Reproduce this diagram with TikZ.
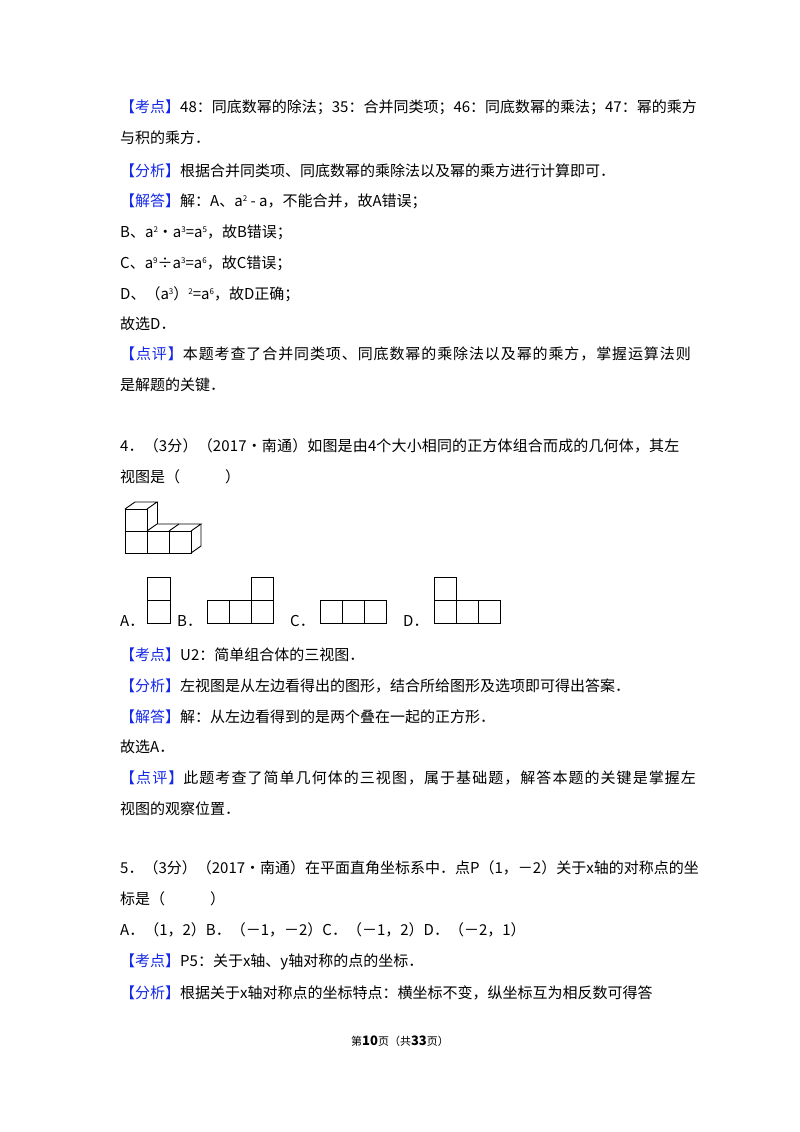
\documentclass[tikz,border=0pt]{standalone}
\usepackage{fontspec}
\setmainfont{Noto Sans CJK SC}
\definecolor{kb}{RGB}{20,40,230}
\newcommand{\kd}[1]{\textcolor{kb}{【#1】}}
\newcommand{\sps}[1]{\raisebox{0.6ex}{\fontsize{8}{8}\selectfont #1}}
\begin{document}
\begin{tikzpicture}[x=1pt,y=-1pt,
  tl/.style={anchor=base west,inner sep=0pt,font=\fontsize{15}{15}\selectfont},
  sq/.style={draw,line width=0.9pt}]
\useasboundingbox (0,0) rectangle (800,1132);
\node[tl] (l1) at (120,112) {\kd{考点}48：同底数幂的除法；35：合并同类项；46：同底数幂的乘法；47：幂的乘方};
\node[tl] (l2) at (120,143) {与积的乘方．};
\node[tl] (l3) at (120,176) {\kd{分析}根据合并同类项、同底数幂的乘除法以及幂的乘方进行计算即可．};
\node[tl] (l4) at (120,206) {\kd{解答}解：A、a\sps{2} - a，不能合并，故A错误；};
\node[tl] (l5) at (120,237) {B、a\sps{2}•a\sps{3}=a\sps{5}，故B错误；};
\node[tl] (l6) at (120,268) {C、a\sps{9}÷a\sps{3}=a\sps{6}，故C错误；};
\node[tl] (l7) at (120,299) {D、（a\sps{3}）\sps{2}=a\sps{6}，故D正确；};
\node[tl] (l8) at (120,329) {故选D．};
\node[tl] (l9) at (120,359) {\addfontfeature{LetterSpace=6}\kd{点评}本题考查了合并同类项、同底数幂的乘除法以及幂的乘方，掌握运算法则};
\node[tl] (l10) at (120,390) {是解题的关键．};
\node[tl] (q4a) at (120,451) {\addfontfeature{LetterSpace=1}4．（3分）（2017•南通）如图是由4个大小相同的正方体组合而成的几何体，其左};
\node[tl] (q4b) at (120,482) {视图是（\hspace{3em}）};
% 3D figure
\def\dx{10}\def\dy{-7}
\foreach \x in {125,147,169} \draw[sq] (\x,531) rectangle ++(22,22);
\draw[sq] (125,509) rectangle (147,531);
\draw[sq] (125,509) -- ++(\dx,\dy) -- ++(22,0) -- (147,509);
\draw[sq] (157,502) -- (157,524);
\draw[sq] (147,531) -- ++(\dx,\dy) -- ++(44,0) -- (191,531);
\draw[sq] (169,531) -- ++(\dx,\dy);
\draw[sq] (201,524) -- (201,546) -- (191,553);
% options
\node[tl] (oa) at (120,626) {A．};
\node[tl] (ob) at (177,626) {B．};
\node[tl] (oc) at (290,626) {C．};
\node[tl] (od) at (403,626) {D．};
\draw[sq] (147,577) rectangle (170,600) (147,600) rectangle (170,623);
\foreach \x in {207,229,251} \draw[sq] (\x,600) rectangle ++(22,23);
\draw[sq] (251,577) rectangle (273,600);
\foreach \x in {320,342,364} \draw[sq] (\x,600) rectangle ++(22,23);
\foreach \x in {434,456,478} \draw[sq] (\x,600) rectangle ++(22,23);
\draw[sq] (434,577) rectangle (456,600);
\node[tl] (m1) at (120,660) {\kd{考点}U2：简单组合体的三视图．};
\node[tl] (m2) at (120,691) {\kd{分析}左视图是从左边看得出的图形，结合所给图形及选项即可得出答案．};
\node[tl] (m3) at (120,722) {\kd{解答}解：从左边看得到的是两个叠在一起的正方形．};
\node[tl] (m4) at (120,752) {故选A．};
\node[tl] (m5) at (120,783) {\addfontfeature{LetterSpace=7}\kd{点评}此题考查了简单几何体的三视图，属于基础题，解答本题的关键是掌握左};
\node[tl] (m6) at (120,814) {视图的观察位置．};
\node[tl] (q5a) at (120,873) {5．（3分）（2017•南通）在平面直角坐标系中．点P（1，－2）关于x轴的对称点的坐};
\node[tl] (q5b) at (120,904) {标是（\hspace{3em}）};
\node[tl] (q5c) at (120,935) {A．（1，2）B．（－1，－2）C．（－1，2）D．（－2，1）};
\node[tl] (n1) at (120,966) {\kd{考点}P5：关于x轴、y轴对称的点的坐标．};
\node[tl] (n2) at (120,998) {\kd{分析}根据关于x轴对称点的坐标特点：横坐标不变，纵坐标互为相反数可得答};
\node[anchor=base,inner sep=0pt,font=\fontsize{11}{11}\selectfont] (ft) at (400,1045) {第\textbf{\fontsize{13}{13}\selectfont 10}页（共\textbf{\fontsize{13}{13}\selectfont 33}页）};
\end{tikzpicture}
\end{document}
